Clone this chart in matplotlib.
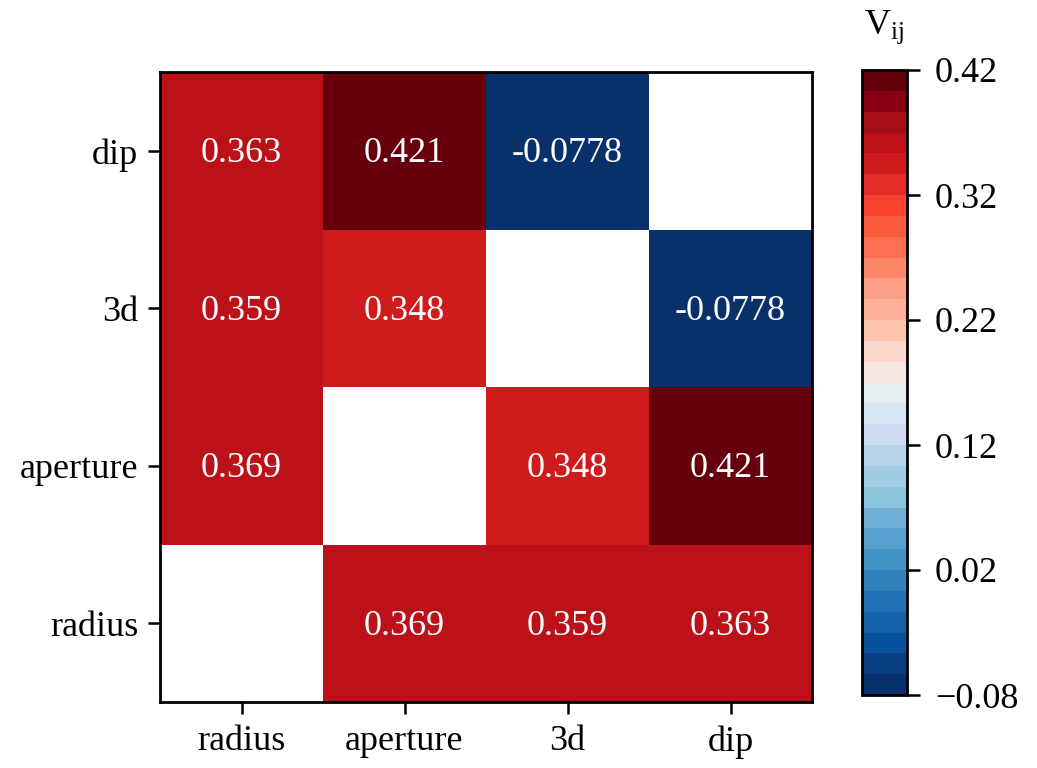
import numpy as np
import matplotlib
matplotlib.use("Agg")
import matplotlib.pyplot as plt
from matplotlib.colors import ListedColormap, BoundaryNorm

labels = ["radius", "aperture", "3d", "dip"]
# rows: radius, aperture, 3d, dip (bottom to top); columns: radius, aperture, 3d, dip
values = np.array([
    [np.nan, 0.369, 0.359, 0.363],
    [0.369, np.nan, 0.348, 0.421],
    [0.359, 0.348, np.nan, -0.0778],
    [0.363, 0.421, -0.0778, np.nan],
])
cbar_ticks = [-0.08, 0.02, 0.12, 0.22, 0.32, 0.42]
vmin, vmax = -0.08, 0.42

# discrete palette, bottom (low) to top (high)
palette = [
    "#08306B", "#083F80", "#08519C", "#1461AA", "#2171B5", "#3182BD",
    "#4292C6", "#57A0CE", "#6EAED4", "#8CC3DD", "#A2CCE2", "#B8D4EA",
    "#CCDBF3", "#D5E6F4", "#E6EDEE", "#F5E6E1", "#FDD7CC", "#FDC5AE",
    "#FCB09A", "#FCA086", "#FD8668", "#FD6F50", "#F85A3A", "#F9432E",
    "#E42B26", "#CF1B1C", "#BD111A", "#A50F15", "#860011", "#67000D",
]
nlev = len(palette)

plt.rcParams['font.family'] = ['Liberation Serif', 'DejaVu Serif']
plt.rcParams['mathtext.fontset'] = 'custom'
plt.rcParams['mathtext.rm'] = 'Liberation Serif'
plt.rcParams['mathtext.it'] = 'Liberation Serif'

fig = plt.figure(figsize=(10.37, 7.68), dpi=100)
ax = fig.add_axes([160/1037, 1-702/768, (812-160)/1037, (702-72)/768])
cax = fig.add_axes([862/1037, 1-695/768, (907-862)/1037, (695-70)/768])

cmap = ListedColormap(palette)
cmap.set_over(palette[-1])
cmap.set_under(palette[0])
cmap.set_bad('white')
bounds = np.linspace(vmin, vmax, nlev + 1)
norm = BoundaryNorm(bounds, nlev)

masked = np.ma.masked_invalid(values)
im = ax.pcolormesh(np.arange(5) - 0.5, np.arange(5) - 0.5, masked, cmap=cmap, norm=norm)
ax.set_xlim(-0.5, 3.5)
ax.set_ylim(-0.5, 3.5)

for i in range(4):
    for j in range(4):
        v = values[i, j]
        if not np.isnan(v):
            ax.text(j, i - 0.02, f"{v:.3g}", ha='center', va='center', color='white', fontsize=26)

ax.set_xticks(range(4))
ax.set_yticks(range(4))
ax.set_xticklabels(labels, fontsize=26)
ax.set_yticklabels(labels, fontsize=26)
ax.tick_params(axis='y', length=8.6, width=1.8, pad=7.2)
ax.tick_params(axis='x', length=8.6, width=1.8, pad=8)
for s in ax.spines.values():
    s.set_linewidth(2)

cb = fig.colorbar(im, cax=cax, ticks=cbar_ticks)
cb.minorticks_off()
cb.ax.set_yticklabels([f"{t:.2f}".replace('-', '\u2212') for t in cbar_ticks], fontsize=26)
cb.ax.tick_params(length=9, width=1.8, pad=11)
cb.outline.set_linewidth(2)
cb.ax.set_title(r"V$_{\mathrm{ij}}$", fontsize=26, pad=26)

fig.savefig("out.png", dpi=100)
